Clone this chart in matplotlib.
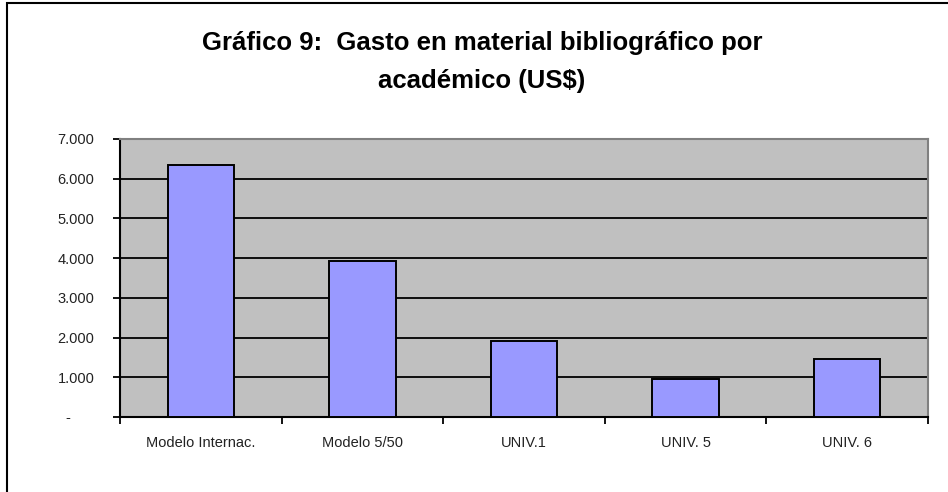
"""Gráfico 9: gasto en material bibliográfico por académico (US$)."""

import matplotlib

matplotlib.use("Agg")
import matplotlib.pyplot as plt
import matplotlib.transforms as mtransforms
from matplotlib.patches import Rectangle

categories = ["Modelo Internac.", "Modelo 5/50", "UNIV.1", "UNIV. 5", "UNIV. 6"]
values = [6350, 3940, 1920, 960, 1450]
y_ticks = [0, 1000, 2000, 3000, 4000, 5000, 6000, 7000]
y_labels = ["-" if v == 0 else f"{v:,}".replace(",", ".") for v in y_ticks]
title = "Gráfico 9:  Gasto en material bibliográfico por\nacadémico (US$)"


def main() -> None:
    plt.rcParams.update(
        {
            "font.family": ["Liberation Sans", "DejaVu Sans"],
            "font.size": 10,
        }
    )

    fig = plt.figure(figsize=(9.48, 4.92), dpi=100)
    ax = fig.add_axes([120 / 948, 75 / 492, 808 / 948, 278 / 492])
    ax.set_facecolor("#C0C0C0")

    x = list(range(len(categories)))
    ax.bar(
        x,
        values,
        width=0.41,
        color="#9999FF",
        edgecolor="black",
        linewidth=1.4,
        zorder=3,
    )

    ax.set_xlim(-0.5, len(categories) - 0.5)
    ax.set_ylim(0, 7000)

    # gridlines (black, behind bars)
    for v in y_ticks[1:-1]:
        ax.axhline(v, color="black", linewidth=1.3, zorder=1)

    ax.set_yticks(y_ticks)
    ax.set_yticklabels(y_labels)
    ax.tick_params(axis="y", length=5, width=1.3, pad=13.5, labelsize=10.5,
                   direction="out", labelcolor="#222222")

    bounds = [i - 0.5 for i in range(len(categories) + 1)]
    ax.set_xticks(bounds)
    ax.set_xticklabels([""] * len(bounds))
    ax.set_xticks(x, minor=True)
    ax.set_xticklabels(categories, minor=True)
    ax.tick_params(axis="x", which="major", length=5, width=1.3, direction="out")
    ax.tick_params(axis="x", which="minor", length=0, pad=14, labelsize=10.5,
                   labelcolor="#222222")

    for side in ("left", "bottom"):
        ax.spines[side].set_color("black")
        ax.spines[side].set_linewidth(1.5)
    for side in ("top", "right"):
        ax.spines[side].set_color("#808080")
        ax.spines[side].set_linewidth(1.5)

    # the "-" for zero sits further left, like the Excel accounting format
    zero_lbl = ax.get_yticklabels()[0]
    shift = mtransforms.ScaledTranslation(-24 / 100, 0, fig.dpi_scale_trans)
    zero_lbl.set_transform(zero_lbl.get_transform() + shift)

    fig.text(
        482 / 948,
        1 - 62 / 492,
        title,
        ha="center",
        va="center",
        fontsize=18.5,
        fontweight="bold",
        linespacing=1.72,
    )

    # outer chart frame (cut off on right and bottom)
    fig.add_artist(
        Rectangle(
            (7 / 948, -0.2),
            1.2,
            1.2 - 3 / 492,
            transform=fig.transFigure,
            fill=False,
            edgecolor="black",
            linewidth=1.5,
            clip_on=False,
        )
    )

    fig.savefig("out.png", dpi=100)
    plt.close(fig)


if __name__ == "__main__":
    main()
